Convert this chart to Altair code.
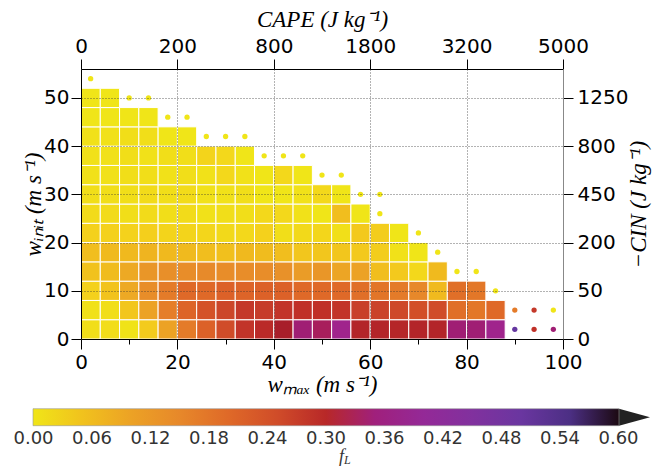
import altair as alt
import pandas as pd

# ---------------- data ----------------
cell = 4  # bin width of w_max and w_init (m/s)
row_winit = [0, 4, 8, 12, 16, 20, 24, 28, 32, 36, 40, 44, 48]
row_fL = [
    [0.01, 0.012, 0.003, 0.038, 0.10, 0.17, 0.215, 0.25, 0.285, 0.297, 0.31, 0.345, 0.33, 0.36, 0.303, 0.303, 0.302, 0.303, 0.303, 0.345, 0.345, 0.36],
    [0.005, 0.01, 0.045, 0.10, 0.165, 0.21, 0.24, 0.26, 0.28, 0.275, 0.285, 0.29, 0.29, 0.285, 0.27, 0.265, 0.255, 0.245, 0.25, 0.19, 0.175, 0.20],
    [0.03, 0.048, 0.088, 0.14, 0.17, 0.20, 0.20, 0.215, 0.21, 0.215, 0.215, 0.20, 0.20, 0.20, 0.19, 0.178, 0.17, 0.15, 0.06, 0.19, 0.175],
    [0.05, 0.058, 0.088, 0.12, 0.135, 0.14, 0.145, 0.14, 0.14, 0.14, 0.13, 0.11, 0.12, 0.095, 0.10, 0.055, 0.04, 0.02, 0.06],
    [0.055, 0.06, 0.062, 0.07, 0.062, 0.06, 0.055, 0.052, 0.062, 0.058, 0.055, 0.045, 0.045, 0.045, 0.04, 0.035, 0.005, 0.0],
    [0.03, 0.03, 0.028, 0.032, 0.025, 0.025, 0.022, 0.018, 0.02, 0.03, 0.01, 0.018, 0.022, 0.008, 0.04, 0.035, 0.0],
    [0.015, 0.015, 0.01, 0.015, 0.01, 0.015, 0.005, 0.01, 0.01, 0.02, 0.02, 0.005, 0.0, 0.055, 0.0],
    [0.01, 0.01, 0.01, 0.015, 0.01, 0.015, 0.005, 0.005, 0.01, 0.0, 0.0, 0.005, 0.02, 0.0],
    [0.005, 0.005, 0.01, 0.01, 0.005, 0.01, 0.005, 0.02, 0.005, 0.0, 0.02, 0.0],
    [0.005, 0.005, 0.01, 0.005, 0.01, 0.01, 0.025, 0.02, 0.0],
    [0.005, 0.005, 0.01, 0.01, 0.0, 0.0],
    [0.0, 0.0, 0.0, 0.0],
    [0.0, 0.0],
]

dot_wmax = [2, 10, 14, 18, 22, 26, 30, 34, 38, 42, 46, 50, 54, 58, 62, 62, 70, 74, 78, 82, 86, 90, 94, 98, 90, 94, 98]
dot_winit = [54, 50, 50, 46, 46, 42, 42, 42, 38, 38, 38, 34, 34, 30, 30, 26, 22, 18, 14, 14, 10, 6, 6, 6, 2, 2, 2]
dot_fL = [0.0] * 21 + [0.17, 0.28, 0.0, 0.51, 0.29, 0.345]

x_major = [0, 20, 40, 60, 80, 100]
x_ticks = [0, 10, 20, 30, 40, 50, 60, 70, 80, 90, 100]
y_ticks = [0, 10, 20, 30, 40, 50]
fl_ticks = [0.0, 0.06, 0.12, 0.18, 0.24, 0.30, 0.36, 0.42, 0.48, 0.54, 0.60]

cmap_stops = [-0.0005, 0.03, 0.06, 0.09, 0.12, 0.15, 0.18, 0.21, 0.24, 0.27, 0.29, 0.30, 0.31,
              0.33, 0.345, 0.36, 0.42, 0.48, 0.54, 0.57, 0.6005]
cmap_colors = ["#F0E518", "#F4D11C", "#F0BA1E", "#EDA824", "#E99628", "#E7882A", "#E27428",
               "#DD6428", "#D45228", "#C8402A", "#C03028", "#B82828", "#A81E2A", "#A81E5C",
               "#A01E74", "#A0248C", "#8E2C9C", "#7435A0", "#5538A0", "#3A1E4C", "#1C0A12"]

# ---------------- tables ----------------
recs = []
for w0, vals in zip(row_winit, row_fL):
    for i, v in enumerate(vals):
        recs.append({"x0": i * cell, "x1": i * cell + cell, "y0": w0, "y1": w0 + cell, "fL": v})
cells_df = pd.DataFrame(recs)
dots_df = pd.DataFrame({"w_max": dot_wmax, "w_init": dot_winit, "fL": dot_fL})

W, H = 482, 270

x_scale = alt.Scale(domain=[0, 100], nice=False, zero=False)
y_scale = alt.Scale(domain=[0, 56], nice=False, zero=False)
c_scale = alt.Scale(type="linear", domain=cmap_stops, range=cmap_colors, interpolate="rgb", clamp=True)

LABEL_FONT = "DejaVu Sans"
TITLE_FONT = "Liberation Serif"
TITLE_SIZE = 23

bottom_axis = alt.Axis(
    orient="bottom", values=x_ticks,
    labelExpr="datum.value % 20 === 0 ? datum.label : ''",
    labelFlush=False, labelOverlap=False,
    tickSize={"condition": {"test": "datum.value % 20 === 0", "value": 10}, "value": 5},
    labelPadding=3, labelFont=LABEL_FONT, labelFontSize=20, labelColor="black",
    tickColor="black", domainColor="black",
    grid=True, gridDash=[1, 2], gridColor="#333",
    gridOpacity={"condition": {"test": "datum.value % 20 === 0 && datum.value > 0 && datum.value < 100", "value": 0.75}, "value": 0},
    title="wₘₐₓ (m s⁻¹)", titleFont=TITLE_FONT, titleFontStyle="italic", titleFontWeight="normal",
    titleFontSize=TITLE_SIZE, titleColor="black", titlePadding=1, zindex=1,
)
left_axis = alt.Axis(
    orient="left", values=y_ticks, tickSize=10, labelPadding=2,
    labelFont=LABEL_FONT, labelFontSize=20, labelColor="black",
    tickColor="black", domainColor="black",
    grid=True, gridDash=[1, 2], gridColor="#333",
    gridOpacity={"condition": {"test": "datum.value > 0", "value": 0.75}, "value": 0},
    title="wᵢₙᵢₜ (m s⁻¹)", titleFont=TITLE_FONT, titleFontStyle="italic", titleFontWeight="normal",
    titleFontSize=TITLE_SIZE, titleColor="black", titlePadding=-2, zindex=1,
)
top_axis = alt.Axis(
    orient="top", values=x_major,
    labelExpr="format(datum.value * datum.value / 2, 'd')",
    labelFlush=False, labelOverlap=False, tickSize=10, labelPadding=3,
    labelFont=LABEL_FONT, labelFontSize=20, labelColor="black",
    tickColor="black", domainColor="black", grid=False,
    title="CAPE (J kg⁻¹)", titleFont=TITLE_FONT, titleFontStyle="italic", titleFontWeight="normal",
    titleFontSize=TITLE_SIZE, titleColor="black", titlePadding=5,
)
right_axis = alt.Axis(
    orient="right", values=y_ticks,
    labelExpr="format(datum.value * datum.value / 2, 'd')",
    tickSize=10, labelPadding=4,
    labelFont=LABEL_FONT, labelFontSize=20, labelColor="black",
    tickColor="black", domainColor="#888", grid=False,
    title="−CIN (J kg⁻¹)", titleFont=TITLE_FONT, titleFontStyle="italic", titleFontWeight="normal",
    titleFontSize=TITLE_SIZE, titleColor="black", titlePadding=0, titleAngle=270, titleBaseline="top",
)

legend = alt.Legend(
    orient="none", legendX=-48, legendY=339.7, direction="horizontal",
    gradientLength=586, gradientThickness=17, title=None, values=fl_ticks, format=".2f",
    labelFont=LABEL_FONT, labelFontSize=18, labelColor="#333",
    labelOverlap=False, labelOffset=4, padding=0,
    gradientStrokeColor="#999", gradientStrokeWidth=0.6,
)

cells = alt.Chart(cells_df).mark_rect(stroke="white", strokeWidth=1).encode(
    x=alt.X("x0:Q", scale=x_scale, axis=bottom_axis),
    x2="x1:Q",
    y=alt.Y("y0:Q", scale=y_scale, axis=left_axis),
    y2="y1:Q",
    color=alt.Color("fL:Q", scale=c_scale, legend=legend),
)

dots = alt.Chart(dots_df).mark_circle(size=28, opacity=1).encode(
    x=alt.X("w_max:Q", scale=x_scale, axis=top_axis),
    y=alt.Y("w_init:Q", scale=y_scale, axis=right_axis),
    color=alt.Color("fL:Q", scale=c_scale),
)

one = pd.DataFrame({"k": [0]})
f_txt = alt.Chart(one).mark_text(
    text="f", font=TITLE_FONT, fontStyle="italic", fontSize=18, align="right",
    baseline="alphabetic", color="#333"
).encode(x=alt.value(263), y=alt.value(393))
l_txt = alt.Chart(one).mark_text(
    text="L", font=TITLE_FONT, fontStyle="italic", fontSize=12, align="left",
    baseline="alphabetic", color="#333"
).encode(x=alt.value(263), y=alt.value(395))
arrow = alt.Chart(one).mark_point(
    shape="M-1,-0.55L1,0L-1,0.55Z", size=961, filled=True, color="#222", opacity=1, strokeWidth=0
).encode(x=alt.value(553.5), y=alt.value(348.2))

chart = alt.layer(cells, dots, f_txt, l_txt, arrow).resolve_axis(
    x="independent", y="independent"
).properties(
    width=W, height=H,
    autosize=alt.AutoSizeParams(type="none"),
    padding={"left": 73, "top": 61, "right": 93, "bottom": 128},
).configure_view(stroke=None)

chart.save("out.html", embed_options={"renderer": "svg", "actions": False})
